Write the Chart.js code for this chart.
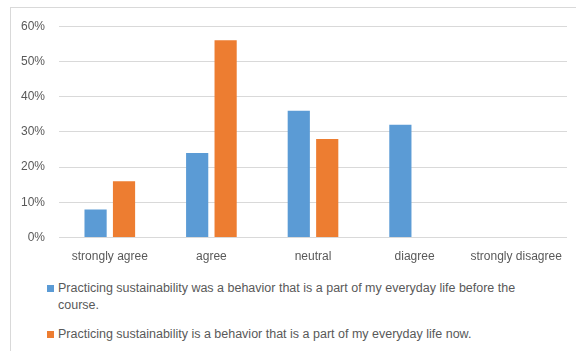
<!DOCTYPE html>
<html>
<head>
<meta charset="utf-8">
<script src="https://cdn.jsdelivr.net/npm/chart.js@4/dist/chart.umd.min.js"></script>
<style>
  body { margin: 0; background: #fff; font-family: "Liberation Sans", Arial, sans-serif; }
  .frame { position: absolute; left: 10px; top: 7px; width: 580px; height: 360px; border: 1px solid #d9d9d9; }
  .plot { position: absolute; left: 0; top: -3px; width: 565px; height: 271px; }
  .legend { position: absolute; left: 36px; top: 272px; width: 475px; font-size: 12.5px; color: #595959; }
  .legend .item { position: relative; padding-left: 11px; line-height: 17px; margin-bottom: 12px; }
  .legend .swatch { position: absolute; left: 0; top: 5px; width: 7px; height: 7px; }
</style>
</head>
<body>
<div class="frame">
  <div class="plot"><canvas id="chart"></canvas></div>
  <div class="legend" id="legend"></div>
</div>
<script>
const categories = ['strongly agree', 'agree', 'neutral', 'diagree', 'strongly disagree'];
const beforeCourse = [8, 24, 36, 32, 0];
const nowValues = [16, 56, 28, 0, 0];
const seriesNames = [
    'Practicing sustainability was a behavior that is a part of my everyday life before the course.',
    'Practicing sustainability is a behavior that is a part of my everyday life now.'
];
const yTicks = [0, 10, 20, 30, 40, 50, 60];

const colors = ['#5B9BD5', '#ED7D31'];

const config = {
    type: 'bar',
    data: {
        labels: categories,
        datasets: [
            { label: seriesNames[0], data: beforeCourse, backgroundColor: colors[0] },
            { label: seriesNames[1], data: nowValues, backgroundColor: colors[1] }
        ]
    },
    options: {
        responsive: true,
        maintainAspectRatio: false,
        animation: false,
        categoryPercentage: 0.56,
        barPercentage: 0.78,
        layout: { padding: { top: 5, right: 9, left: 0, bottom: 0 } },
        plugins: { legend: { display: false }, tooltip: { enabled: false } },
        scales: {
            x: {
                grid: { display: false, drawTicks: false },
                border: { display: false },
                ticks: { color: '#595959', font: { family: 'Liberation Sans', size: 12 }, padding: 12, maxRotation: 0 }
            },
            y: {
                min: 0,
                max: 60,
                afterBuildTicks: scale => { scale.ticks = yTicks.map(v => ({ value: v })); },
                afterFit: scale => { scale.width = 48; },
                grid: { color: '#d9d9d9', drawTicks: false },
                border: { display: false },
                ticks: { color: '#595959', font: { family: 'Liberation Sans', size: 12 }, padding: 14, callback: v => v + '%' }
            }
        }
    }
};

new Chart(document.getElementById('chart'), config);

// legend below the plot, text wraps like the original
const legend = document.getElementById('legend');
seriesNames.forEach((name, i) => {
    const item = document.createElement('div');
    item.className = 'item';
    const sw = document.createElement('span');
    sw.className = 'swatch';
    sw.style.background = colors[i];
    item.appendChild(sw);
    item.appendChild(document.createTextNode(name));
    legend.appendChild(item);
});
</script>
</body>
</html>
